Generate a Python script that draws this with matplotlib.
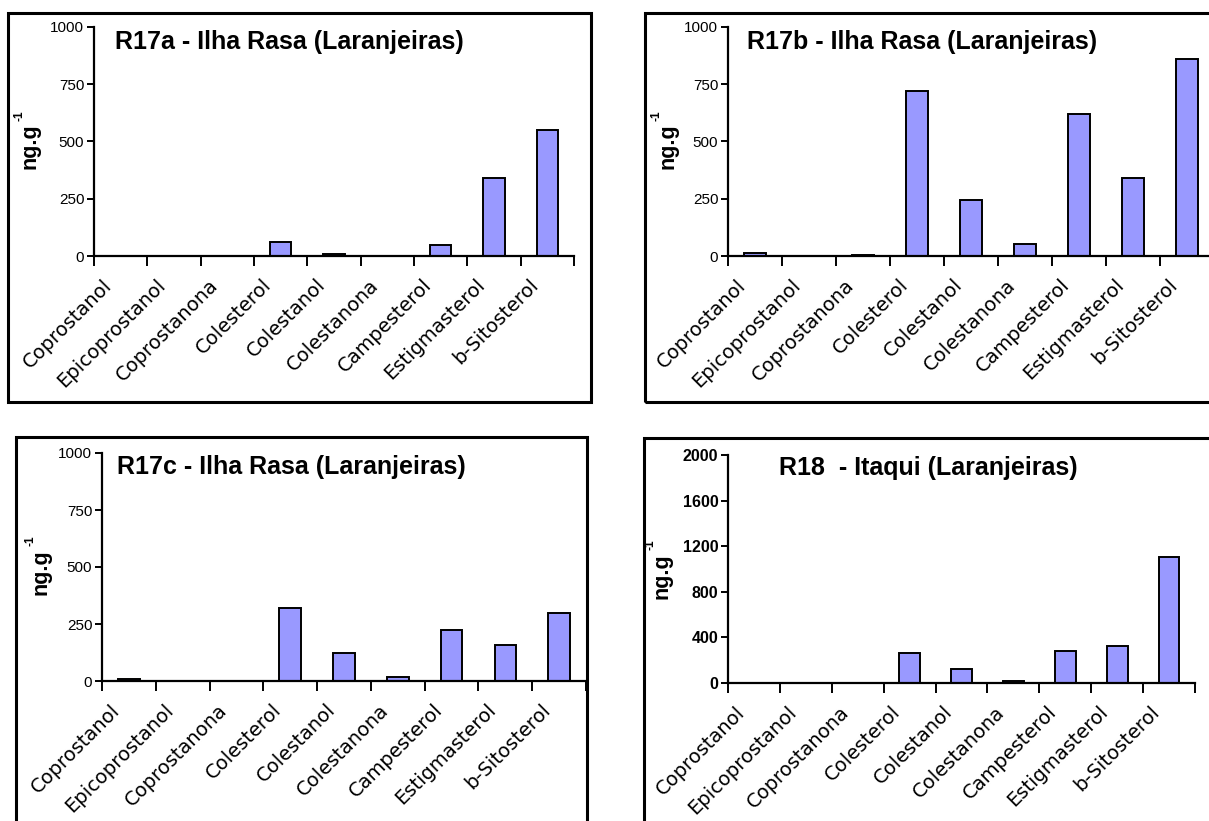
import matplotlib
matplotlib.use("Agg")
import matplotlib.pyplot as plt
from matplotlib.patches import Rectangle
from matplotlib.transforms import ScaledTranslation

W, H = 1209, 821

compounds = ["Coprostanol", "Epicoprostanol", "Coprostanona", "Colesterol",
             "Colestanol", "Colestanona", "Campesterol", "Estigmasterol",
             "b-Sitosterol"]

r17a = [0, 0, 0, 60, 8, 0, 50, 340, 550]
r17b = [15, 0, 5, 722, 243, 52, 620, 340, 862]
r17c = [8, 0, 0, 318, 124, 18, 222, 160, 300]
r18 = [0, 0, 0, 262, 120, 14, 278, 328, 1108]

titles = ["R17a - Ilha Rasa (Laranjeiras)", "R17b - Ilha Rasa (Laranjeiras)",
          "R17c - Ilha Rasa (Laranjeiras)", "R18  - Itaqui (Laranjeiras)"]

yticks_1000 = [0, 250, 500, 750, 1000]
yticks_2000 = [0, 400, 800, 1200, 1600, 2000]

BAR = "#9999FF"
NARROW = ["Liberation Sans Narrow", "Liberation Sans", "DejaVu Sans"]


def fx(px):
    return px / W


def fy(py):
    return 1 - py / H


fig = plt.figure(figsize=(W / 100, H / 100), dpi=100)
fig.patch.set_facecolor("white")

# everything in pixels of the 1209x821 canvas
panels = [
    dict(vals=r17a, box=(8, 13, 591, 402), x0=94, x1=574, yt=27, y0=256,
         ymax=1000, ticks=yticks_1000, tx=115, ty=42,
         lab=(30.5, 146), sup=(19.5, 116), bold=False),
    dict(vals=r17b, box=(645, 13, 1240, 402), x0=728, x1=1214, yt=27, y0=256,
         ymax=1000, ticks=yticks_1000, tx=747, ty=42,
         lab=(668, 146), sup=(657, 116), bold=False),
    dict(vals=r17c, box=(16, 437, 587, 860), x0=102, x1=586, yt=453, y0=681,
         ymax=1000, ticks=yticks_1000, tx=117, ty=467,
         lab=(41, 572), sup=(30, 541), bold=False),
    dict(vals=r18, box=(644, 438, 1240, 860), x0=728, x1=1195, yt=455, y0=683,
         ymax=2000, ticks=yticks_2000, tx=779, ty=468,
         lab=(661.5, 576), sup=(651, 545), bold=True),
]

lab_shift = ScaledTranslation(-12 / 100, -26 / 100, fig.dpi_scale_trans)

for p, title in zip(panels, titles):
    bx0, by0, bx1, by1 = p["box"]
    fig.patches.append(Rectangle((fx(bx0), fy(by1)), fx(bx1 - bx0), (by1 - by0) / H,
                                 transform=fig.transFigure, fill=False,
                                 edgecolor="black", linewidth=2.2, zorder=0))

    ax = fig.add_axes([fx(p["x0"]), fy(p["y0"]), fx(p["x1"] - p["x0"]),
                       (p["y0"] - p["yt"]) / H])
    ax.patch.set_alpha(0)
    n = len(compounds)
    xs = [i + 0.5 for i in range(n)]
    ax.bar(xs, p["vals"], width=0.4, color=BAR, edgecolor="black", linewidth=1.4,
           zorder=3)
    ax.set_xlim(0, n)
    ax.set_ylim(0, p["ymax"])
    for s in ["top", "right"]:
        ax.spines[s].set_visible(False)
    for s in ["left", "bottom"]:
        ax.spines[s].set_linewidth(1.6)
        ax.spines[s].set_zorder(4)

    ax.set_yticks(p["ticks"])
    ax.tick_params(axis="y", direction="out", length=5, width=1.4, pad=2)
    for lab in ax.get_yticklabels():
        lab.set_family(NARROW)
        lab.set_fontsize(11.5 if p["bold"] else 11)
        if p["bold"]:
            lab.set_fontweight("bold")

    # category boundaries carry the tick marks, names are rotated under them
    ax.set_xticks(list(range(n + 1)))
    ax.set_xticklabels([])
    ax.tick_params(axis="x", direction="out", length=7, width=1.4)
    for x, name in zip(xs, compounds):
        ax.text(x, 0, name, rotation=45, ha="right", va="center",
                rotation_mode="anchor", fontsize=14, family="DejaVu Sans",
                transform=ax.get_xaxis_transform() + lab_shift, clip_on=False)

    fig.text(fx(p["tx"]), fy(p["ty"]), title, ha="left", va="center",
             fontsize=18, fontweight="bold", family=NARROW)
    fig.text(fx(p["lab"][0]), fy(p["lab"][1]), "ng.g", rotation=90, ha="center",
             va="center", fontsize=15.5, fontweight="bold", family="Liberation Sans")
    fig.text(fx(p["sup"][0]), fy(p["sup"][1]), "-1", rotation=90, ha="center",
             va="center", fontsize=8.5, fontweight="bold", family="Liberation Sans")

fig.savefig("out.png", dpi=100)
